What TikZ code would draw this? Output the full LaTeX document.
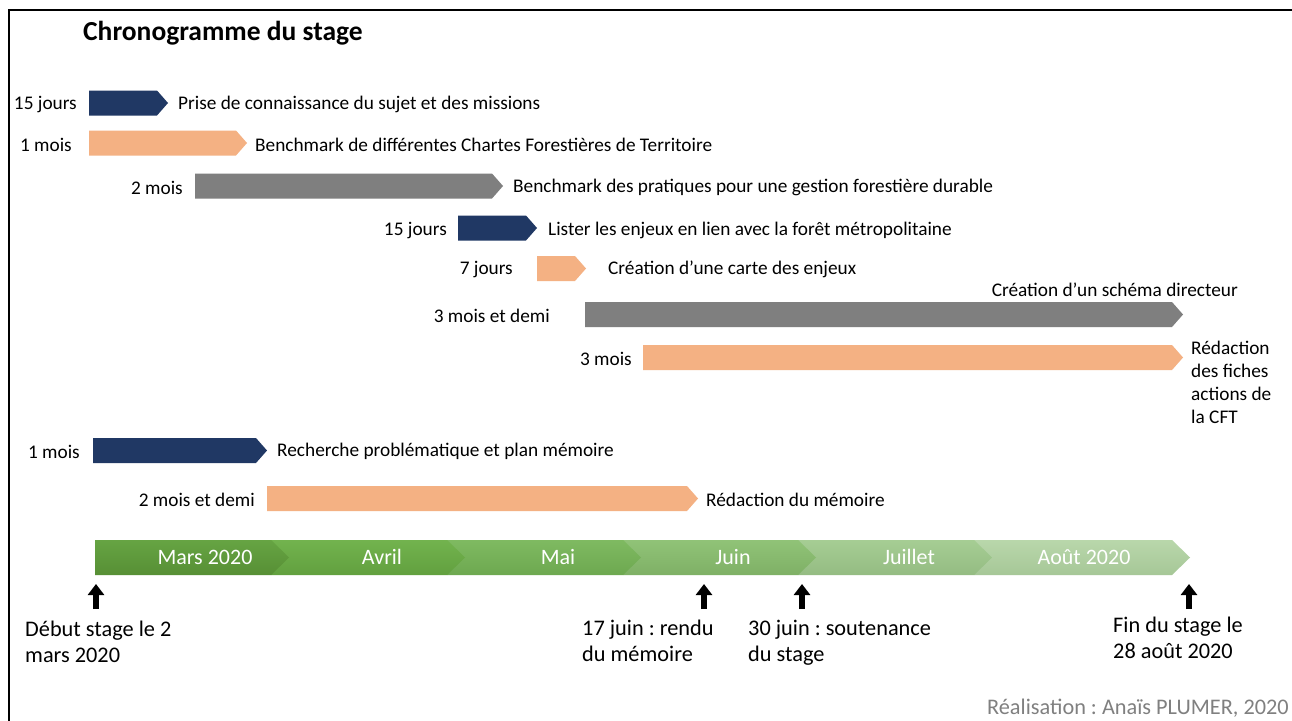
\documentclass[tikz,border=0pt]{standalone}
\usepackage{fontspec}
\setmainfont{Carlito}
\frenchspacing
\usetikzlibrary{arrows.meta}
\definecolor{navy}{HTML}{203864}
\definecolor{peach}{HTML}{F4B183}
\definecolor{midgray}{HTML}{7F7F7F}
\definecolor{footgray}{HTML}{808080}
\definecolor{g1t}{HTML}{66A443}\definecolor{g1b}{HTML}{578F35}
\definecolor{g2t}{HTML}{72B34E}\definecolor{g2b}{HTML}{62A03F}
\definecolor{g3t}{HTML}{7FBA61}\definecolor{g3b}{HTML}{6DA850}
\definecolor{g4t}{HTML}{90C377}\definecolor{g4b}{HTML}{7FB066}
\definecolor{g5t}{HTML}{A6CD94}\definecolor{g5b}{HTML}{94BC82}
\definecolor{g6t}{HTML}{B9D7AB}\definecolor{g6b}{HTML}{A6C797}
\newcommand\taskbar[5]{%
  \fill[#4] (#1,#3-12.5) coordinate (#5s) -- (#2-11,#3-12.5) -- (#2,#3) coordinate (#5e) -- (#2-11,#3+12.5) -- (#1,#3+12.5) -- cycle;}
\newcommand\monthseg[7]{%
  \shade[top color=#4, bottom color=#5] (#1,540) -- (#2-18,540) -- (#2,557.5) -- (#2-18,575) -- (#1,575) -- cycle;
  \node[month] (#6) at (#3,557) {#7};}
\tikzset{
  dur/.style={anchor=east, inner sep=0pt, yshift=-1.5pt, font=\fontsize{19.3}{23}\selectfont, text=black},
  task/.style={anchor=west, inner sep=0pt, yshift=-1.5pt, font=\fontsize{19.3}{23}\selectfont, text=black},
  month/.style={inner sep=0pt, font=\fontsize{22}{26}\selectfont, text=white},
  note/.style={anchor=north west, inner sep=0pt, align=left, font=\fontsize{22.3}{26}\selectfont, text=black},
  marker/.style={line width=5.5pt, -{Triangle[width=16pt,length=11pt]}},
}
\begin{document}
\begin{tikzpicture}[x=1pt,y=-1pt]
\useasboundingbox (0,0) rectangle (1292,720);
\fill[white] (0,0) rectangle (1292,720);
\draw[line width=2pt] (9,722) -- (9,10) -- (1294,10);

\node[anchor=west, inner sep=0pt, font=\fontsize{27.5}{32}\selectfont\bfseries] (title) at (83,33) {Chronogramme du stage};

% tasks
\taskbar{89}{168}{103}{navy}{b1}
\node[dur] (d1) at (77,103) {15 jours};
\node[task] (t1) at (178,103) {Prise de connaissance du sujet et des missions};

\taskbar{89}{247}{143}{peach}{b2}
\node[dur] (d2) at (72,143) {1 mois};
\node[task] (t2) at (255,143) {Benchmark de différentes Chartes Forestières de Territoire};

\taskbar{195}{503}{186}{midgray}{b3}
\node[dur] (d3) at (183,186) {2 mois};
\node[task] (t3) at (513,186) {Benchmark des pratiques pour une gestion forestière durable};

\taskbar{458}{537}{228}{navy}{b4}
\node[dur] (d4) at (447,229) {15 jours};
\node[task] (t4) at (548,229) {Lister les enjeux en lien avec la forêt métropolitaine};

\taskbar{537}{586}{268.5}{peach}{b5}
\node[dur] (d5) at (513,268) {7 jours};
\node[task] (t5) at (608,268) {Création d’une carte des enjeux};

\taskbar{585}{1183}{314.5}{midgray}{b6}
\node[dur] (d6) at (550,314) {3 mois et demi};
\node[task, anchor=east] (t6) at (1238,288) {Création d’un schéma directeur};

\taskbar{643}{1183}{357.5}{peach}{b7}
\node[dur] (d7) at (632,357) {3 mois};
\node[task, anchor=north west, align=left, yshift=0pt, font=\fontsize{19.3}{23}\selectfont] (t7) at (1191,339) {Rédaction\\des fiches\\actions de\\la CFT};

\taskbar{93}{267}{450.5}{navy}{b8}
\node[dur] (d8) at (80,450) {1 mois};
\node[task] (t8) at (277,450) {Recherche problématique et plan mémoire};

\taskbar{267}{698}{498.5}{peach}{b9}
\node[dur] (d9) at (255,498) {2 mois et demi};
\node[task] (t9) at (706,498) {Rédaction du mémoire};

% timeline
\monthseg{974}{1190}{1084}{g6t}{g6b}{m6}{Août 2020}
\monthseg{798}{992}{909}{g5t}{g5b}{m5}{Juillet}
\monthseg{623}{816}{733}{g4t}{g4b}{m4}{Juin}
\monthseg{447}{641}{558}{g3t}{g3b}{m3}{Mai}
\monthseg{271}{465}{382}{g2t}{g2b}{m2}{Avril}
\monthseg{95}{289}{205}{g1t}{g1b}{m1}{Mars 2020}

% markers
\coordinate (a1b) at (96,609); \coordinate (a1t) at (96,584);
\coordinate (a2b) at (704,609); \coordinate (a2t) at (704,584);
\coordinate (a3b) at (802,609); \coordinate (a3t) at (802,584);
\coordinate (a4b) at (1189,609); \coordinate (a4t) at (1189,584);
\draw[marker] (a1b) -- (a1t);
\draw[marker] (a2b) -- (a2t);
\draw[marker] (a3b) -- (a3t);
\draw[marker] (a4b) -- (a4t);

\node[note] (n1) at (25,621) {Début stage le 2\\mars 2020};
\node[note] (n2) at (582,620) {17 juin : rendu\\du mémoire};
\node[note] (n3) at (748,620) {30 juin : soutenance\\du stage};
\node[note] (n4) at (1113,617) {Fin du stage le\\28 août 2020};

\node[anchor=east, inner sep=0pt, font=\fontsize{22.3}{26}\selectfont, text=footgray] (foot) at (1289,708) {Réalisation : Anaïs PLUMER, 2020};
\end{tikzpicture}
\end{document}
